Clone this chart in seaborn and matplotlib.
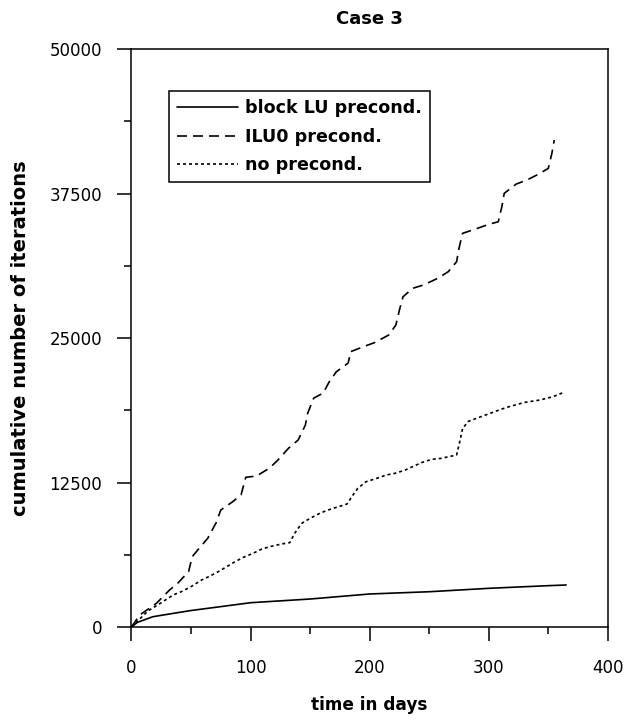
import matplotlib
matplotlib.use("Agg")
import matplotlib.pyplot as plt
import seaborn as sns
import pandas as pd
from matplotlib.ticker import MultipleLocator

# ---- data ----
block_days = [0, 5, 18, 49, 100, 150, 200, 250, 300, 350, 365]
block_vals = [0, 400, 890, 1410, 2100, 2420, 2855, 3050, 3345, 3575, 3633]

ilu_days = [0, 7, 21, 32, 39, 48, 51, 58, 64, 71, 75, 85, 92, 96, 105, 116, 123,
            132, 140, 146, 148, 153, 161, 166, 172, 182, 184, 196, 204, 216, 222,
            225, 228, 236, 245, 257, 266, 273, 275, 278, 288, 300, 308, 311, 313,
            323, 332, 342, 350, 353, 355]
ilu_vals = [0, 1040, 2050, 3200, 3800, 4800, 6080, 6950, 7670, 9000, 10120, 10840,
            11420, 12950, 13060, 13750, 14450, 15480, 16180, 17470, 18500, 19800,
            20240, 21200, 22080, 22840, 23820, 24300, 24600, 25260, 26120, 27420,
            28570, 29300, 29580, 30160, 30740, 31600, 32760, 34060, 34400, 34840,
            35060, 36360, 37520, 38320, 38670, 39190, 39680, 40980, 42130]

none_days = [0, 14, 25, 35, 42, 50, 59, 66, 73, 80, 87, 94, 102, 109, 116, 126,
             133, 137, 143, 150, 158, 165, 174, 181, 186, 190, 197, 206, 214, 221,
             230, 236, 244, 252, 260, 273, 276, 278, 283, 292, 307, 315, 330, 343,
             354, 363]
none_vals = [0, 1400, 2100, 2770, 3060, 3490, 4070, 4410, 4790, 5220, 5650, 6030,
             6370, 6720, 6950, 7180, 7300, 8100, 8970, 9400, 9830, 10120, 10410,
             10640, 11420, 12000, 12570, 12860, 13150, 13290, 13580, 13870, 14240,
             14500, 14590, 14880, 16180, 17180, 17800, 18140, 18710, 19000, 19430,
             19640, 19930, 20300]

labels = ["block LU precond.", "ILU0 precond.", "no precond."]
x_ticks = [0, 100, 200, 300, 400]
y_ticks = [0, 12500, 25000, 37500, 50000]

df = pd.concat([
    pd.DataFrame({"day": block_days, "iters": block_vals, "method": labels[0]}),
    pd.DataFrame({"day": ilu_days, "iters": ilu_vals, "method": labels[1]}),
    pd.DataFrame({"day": none_days, "iters": none_vals, "method": labels[2]}),
], ignore_index=True)

sns.set_style("ticks")
plt.rcParams["font.family"] = ["DejaVu Sans"]
plt.rcParams["text.color"] = "black"
plt.rcParams["axes.labelcolor"] = "black"

fig = plt.figure(figsize=(6.26, 7.22), dpi=100)
ax = fig.add_axes([0.210, 0.1316, 0.761, 0.8004])

sns.lineplot(data=df, x="day", y="iters", style="method", hue="method",
             palette={l: "black" for l in labels},
             dashes={labels[0]: "", labels[1]: (6, 3.6), labels[2]: (1.8, 1.8)},
             linewidth=1.2, sort=False, estimator=None, ax=ax)

ax.set_xlim(0, 400)
ax.set_ylim(0, 50000)
ax.set_xticks(x_ticks)
ax.set_yticks(y_ticks)
ax.xaxis.set_minor_locator(MultipleLocator(50))
ax.yaxis.set_minor_locator(MultipleLocator(6250))
ax.tick_params(which="major", length=10, width=1.1, direction="out",
               labelsize=12, colors="black")
ax.tick_params(axis="y", which="major", pad=11)
ax.tick_params(axis="x", which="major", pad=13)
ax.tick_params(which="minor", length=5, width=1.1, direction="out", colors="black")
for s in ax.spines.values():
    s.set_linewidth(1.1)
    s.set_color("black")
    s.set_visible(True)

ax.set_title("Case 3", fontsize=13, fontweight="bold", pad=18, color="black")
ax.set_xlabel("time in days", fontsize=12.2, fontweight="bold", labelpad=14,
              color="black")
ax.set_ylabel("cumulative number of iterations", fontsize=14, fontweight="bold",
              labelpad=14, color="black")

leg = ax.legend(loc="upper left", bbox_to_anchor=(0.079, 0.927),
                borderaxespad=0, frameon=True, fancybox=False, framealpha=1,
                edgecolor="black", handlelength=3.5, handletextpad=0.4,
                labelspacing=0.6, borderpad=0.45,
                prop={"weight": "bold", "size": 12.6})
leg.get_frame().set_linewidth(1.1)
for t in leg.get_texts():
    t.set_color("black")

fig.savefig("out.png", dpi=100)
